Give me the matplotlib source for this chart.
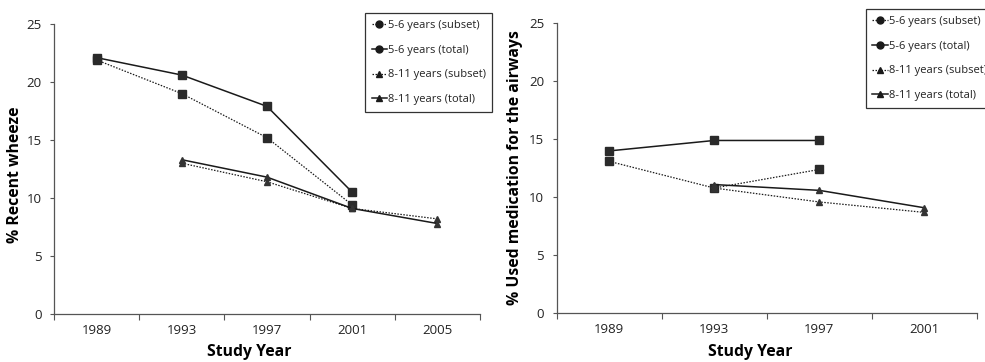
import numpy as np
import matplotlib.pyplot as plt
from matplotlib.lines import Line2D

plt.rcParams['font.family'] = ['Open Sans', 'DejaVu Sans']

# Dados - painel esquerdo (recent wheeze)
anos_esq = ['1989', '1993', '1997', '2001', '2005']
w_56_subset = [21.9, 19.0, 15.2, 9.4, np.nan]
w_56_total = [22.1, 20.6, 17.9, 10.5, np.nan]
w_811_subset = [np.nan, 13.0, 11.4, 9.1, 8.2]
w_811_total = [np.nan, 13.3, 11.8, 9.1, 7.8]

# Dados - painel direito (medication)
anos_dir = ['1989', '1993', '1997', '2001']
m_56_subset = [13.1, 10.8, 12.4, np.nan]
m_56_total = [14.0, 14.9, 14.9, np.nan]
m_811_subset = [np.nan, 10.8, 9.6, 8.7]
m_811_total = [np.nan, 11.1, 10.6, 9.1]

labels = ['5-6 years (subset)', '5-6 years (total)',
          '8-11 years (subset)', '8-11 years (total)']

dotted = (0, (1.2, 1.2))
cor = '#1a1a1a'

fig = plt.figure(figsize=(9.85, 3.62), dpi=100)
ax1 = fig.add_axes([0.0548, 0.1326, 0.4325, 0.8011])
ax2 = fig.add_axes([0.5652, 0.1345, 0.4264, 0.8011])


def desenha(ax, anos, s56, t56, s811, t811, ylabel, xlab_x, ylab_xy):
    x = np.arange(len(anos))
    ax.plot(x, s56, color=cor, linestyle=dotted, linewidth=0.9,
            marker='s', markersize=5.5, markerfacecolor='#2a2a2a', markeredgecolor='#2a2a2a')
    ax.plot(x, t56, color=cor, linestyle='-', linewidth=1.1,
            marker='s', markersize=5.5, markerfacecolor='#2a2a2a', markeredgecolor='#2a2a2a')
    ax.plot(x, s811, color=cor, linestyle=dotted, linewidth=0.9,
            marker='^', markersize=4.5, markerfacecolor='#333333', markeredgecolor='#333333')
    ax.plot(x, t811, color=cor, linestyle='-', linewidth=1.1,
            marker='^', markersize=4.5, markerfacecolor='#333333', markeredgecolor='#333333')

    ax.set_xlim(-0.5, len(anos) - 0.5)
    ax.set_ylim(0, 25)
    ax.set_yticks([0, 5, 10, 15, 20, 25])
    ax.set_xticks(np.arange(len(anos) + 1) - 0.5)
    ax.set_xticklabels([])
    ax.set_xticks(x, minor=True)
    ax.set_xticklabels(anos, minor=True)
    ax.tick_params(axis='x', which='major', direction='out', length=4, width=0.8, color='#555555')
    ax.tick_params(axis='x', which='minor', length=0, pad=7, labelsize=9.5, labelcolor='#222222')
    ax.tick_params(axis='y', direction='out', length=3, width=0.8, color='#555555',
                   labelsize=9.5, labelcolor='#222222', pad=6)
    for s in ['top', 'right']:
        ax.spines[s].set_visible(False)
    for s in ['left', 'bottom']:
        ax.spines[s].set_color('#555555')
        ax.spines[s].set_linewidth(0.9)

    ax.set_xlabel('Study Year', fontsize=11.3, fontweight='bold')
    ax.xaxis.set_label_coords(xlab_x, -0.105)
    ax.set_ylabel(ylabel, fontsize=11.3, fontweight='bold')
    ax.yaxis.set_label_coords(*ylab_xy)


desenha(ax1, anos_esq, w_56_subset, w_56_total, w_811_subset, w_811_total,
        '% Recent wheeze', 0.458, (-0.073, 0.479))
desenha(ax2, anos_dir, m_56_subset, m_56_total, m_811_subset, m_811_total,
        '% Used medication for the airways', 0.46, (-0.080, 0.501))

# legenda (círculos na legenda, como no original)
handles = [
    Line2D([], [], color=cor, linestyle=dotted, linewidth=0.9, marker='o', markersize=5),
    Line2D([], [], color=cor, linestyle='-', linewidth=1.1, marker='o', markersize=5),
    Line2D([], [], color=cor, linestyle=dotted, linewidth=0.9, marker='^', markersize=5),
    Line2D([], [], color=cor, linestyle='-', linewidth=1.1, marker='^', markersize=5),
]

for (x0, y0) in [(0.3706, 0.964), (0.879, 0.975)]:
    leg = fig.legend(handles, labels, loc='upper left', bbox_to_anchor=(x0, y0),
                     fontsize=8, frameon=True, fancybox=False, handlelength=1.4,
                     handletextpad=0.05, labelspacing=1.25, borderpad=0.6,
                     borderaxespad=0, markerfirst=True)
    leg.get_frame().set_edgecolor('black')
    leg.get_frame().set_linewidth(0.9)
    for t in leg.get_texts():
        t.set_color('#222222')

fig.savefig('out.png', dpi=100)
